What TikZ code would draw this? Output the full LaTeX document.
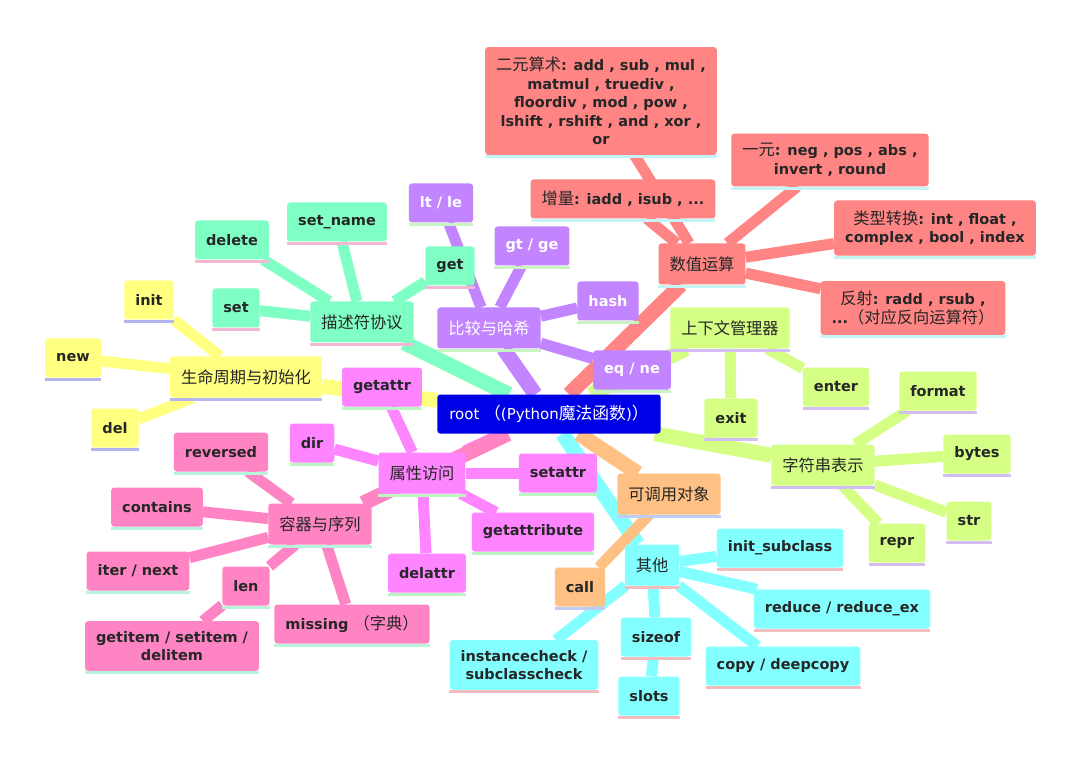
\documentclass[tikz,border=0pt]{standalone}
\usepackage{fontspec}
\setmainfont{DejaVu Sans}
\newfontfamily\cjk[Scale=1.12]{Noto Sans CJK SC}
\newcommand\zh[1]{{\mdseries\cjk #1}}
\usetikzlibrary{backgrounds}
\definecolor{rootB}{HTML}{0000E6}
\definecolor{lifeY}{HTML}{FFFF80}\definecolor{lifeS}{HTML}{B4B4F0}
\definecolor{descG}{HTML}{80FFC4}\definecolor{descS}{HTML}{F4B8D4}
\definecolor{cmpP}{HTML}{C284FF}\definecolor{cmpS}{HTML}{C8F4C4}
\definecolor{numR}{HTML}{FF8484}\definecolor{numS}{HTML}{C4F4F4}
\definecolor{ctxG}{HTML}{D4FF84}\definecolor{ctxS}{HTML}{D4BCF4}
\definecolor{callO}{HTML}{FFC084}\definecolor{callS}{HTML}{BCCCF4}
\definecolor{miscC}{HTML}{84FFFF}\definecolor{miscS}{HTML}{F4BCBC}
\definecolor{attrM}{HTML}{FF84FF}\definecolor{attrS}{HTML}{BCF4C4}
\definecolor{contP}{HTML}{FF84C4}\definecolor{contS}{HTML}{B8F4DC}
\begin{document}
\begin{tikzpicture}[x=1pt,y=-1pt,
  box/.style={rounded corners=3pt, inner xsep=11pt, inner ysep=10pt, minimum height=39pt, align=center, text=black!85},
  leaf/.style 2 args={box, fill=#1, font=\bfseries\fontsize{14.5}{18.5}\selectfont,
    append after command={([yshift=-1.6pt]\tikzlastnode.south west) edge[draw=#2, fill=none, line width=3.2pt, rounded corners=0pt] ([yshift=-1.6pt]\tikzlastnode.south east)}},
  hub/.style 2 args={leaf={#1}{#2}, font=\cjk\fontsize{14.5}{18}\selectfont, minimum height=41pt, inner xsep=11pt},
  trunk/.style={draw=#1, line width=15pt},
  twig/.style={draw=#1, line width=11pt}]
  \useasboundingbox (0,0) rectangle (1080,762);
  % root
  \node[box, fill=rootB, text=white, font=\fontsize{15}{18}\selectfont, inner xsep=12pt] (root) at (549,414) {root \zh{（}(Python\zh{魔法函数})\zh{）}};
  % life cycle
  \node[hub={lifeY}{lifeS}] (life) at (246,377) {生命周期与初始化};
  \node[leaf={lifeY}{lifeS}] (lnew) at (73,358) {new};
  \node[leaf={lifeY}{lifeS}] (linit) at (149,300) {init};
  \node[leaf={lifeY}{lifeS}] (ldel) at (115,428) {del};
  % descriptors
  \node[hub={descG}{descS}] (desc) at (362,322) {描述符协议};
  \node[leaf={descG}{descS}] (dset) at (236,308) {set};
  \node[leaf={descG}{descS}] (ddel) at (232,240) {delete};
  \node[leaf={descG}{descS}] (dname) at (337,222) {set\_name};
  \node[leaf={descG}{descS}] (dget) at (450,266) {get};
  % compare and hash
  \node[hub={cmpP}{cmpS}, text=white] (cmp) at (489,328) {比较与哈希};
  \node[leaf={cmpP}{cmpS}, text=white] (clt) at (441,203) {lt / le};
  \node[leaf={cmpP}{cmpS}, text=white] (cgt) at (532,246) {gt / ge};
  \node[leaf={cmpP}{cmpS}, text=white] (chash) at (608,301) {hash};
  \node[leaf={cmpP}{cmpS}, text=white] (ceq) at (632,370) {eq / ne};
  % numeric
  \node[hub={numR}{numS}] (num) at (702,264) {数值运算};
  \node[leaf={numR}{numS}] (nbin) at (601,101) {\zh{二元算术}: add , sub , mul ,\\ matmul , truediv ,\\ floordiv , mod , pow ,\\ lshift , rshift , and , xor ,\\ or};
  \node[leaf={numR}{numS}] (ninc) at (623,199) {\zh{增量}: iadd , isub , ...};
  \node[leaf={numR}{numS}] (nuna) at (830,160) {\zh{一元}: neg , pos , abs ,\\ invert , round};
  \node[leaf={numR}{numS}] (nconv) at (935,228) {\zh{类型转换}: int , float ,\\ complex , bool , index};
  \node[leaf={numR}{numS}] (nref) at (913,308) {\zh{反射}: radd , rsub ,\\ ...\zh{（对应反向运算符）}};
  % context manager
  \node[hub={ctxG}{ctxS}] (ctx) at (730,328) {上下文管理器};
  \node[leaf={ctxG}{ctxS}] (xexit) at (731,418) {exit};
  \node[leaf={ctxG}{ctxS}] (xenter) at (836,387) {enter};
  % string forms
  \node[hub={ctxG}{ctxS}] (strg) at (823,465) {字符串表示};
  \node[leaf={ctxG}{ctxS}] (sfmt) at (938,391) {format};
  \node[leaf={ctxG}{ctxS}] (sbytes) at (977,454) {bytes};
  \node[leaf={ctxG}{ctxS}] (sstr) at (969,521) {str};
  \node[leaf={ctxG}{ctxS}] (srepr) at (897,543) {repr};
  % callable
  \node[hub={callO}{callS}] (callable) at (669,494) {可调用对象};
  \node[leaf={callO}{callS}] (ccall) at (580,587) {call};
  % misc
  \node[hub={miscC}{miscS}] (misc) at (652,565) {其他};
  \node[leaf={miscC}{miscS}] (minit) at (780,548) {init\_subclass};
  \node[leaf={miscC}{miscS}] (mred) at (842,609) {reduce / reduce\_ex};
  \node[leaf={miscC}{miscS}] (mcopy) at (783,666) {copy / deepcopy};
  \node[leaf={miscC}{miscS}] (msize) at (656,637) {sizeof};
  \node[leaf={miscC}{miscS}] (mslots) at (649,696) {slots};
  \node[leaf={miscC}{miscS}] (minst) at (524,665) {instancecheck /\\ subclasscheck};
  % attribute access
  \node[hub={attrM}{attrS}] (attr) at (422,473) {属性访问};
  \node[leaf={attrM}{attrS}] (agetattr) at (382,387) {getattr};
  \node[leaf={attrM}{attrS}] (adir) at (312,443) {dir};
  \node[leaf={attrM}{attrS}] (asetattr) at (558,473) {setattr};
  \node[leaf={attrM}{attrS}] (agetattribute) at (533,532) {getattribute};
  \node[leaf={attrM}{attrS}] (adelattr) at (427,573) {delattr};
  % containers
  \node[hub={contP}{contS}] (cont) at (320,524) {容器与序列};
  \node[leaf={contP}{contS}] (crev) at (221,452) {reversed};
  \node[leaf={contP}{contS}] (ccont) at (157,507) {contains};
  \node[leaf={contP}{contS}] (citer) at (138,571) {iter / next};
  \node[leaf={contP}{contS}] (clen) at (246,586) {len};
  \node[leaf={contP}{contS}] (cgitem) at (172,646) {getitem / setitem /\\ delitem};
  \node[leaf={contP}{contS}] (cmiss) at (352,624) {missing \zh{（字典）}};
  \begin{pgfonlayer}{background}
    \fill[white] (0,0) rectangle (1080,762);
    \draw[trunk=lifeY] (root) -- (life); \draw[trunk=descG] (root) -- (desc); \draw[trunk=cmpP] (root) -- (cmp);
    \draw[trunk=numR] (root) -- (num); \draw[trunk=ctxG] (root) -- (ctx); \draw[trunk=ctxG] (root) -- (strg);
    \draw[trunk=miscC] (root) -- (misc); \draw[trunk=callO] (root) -- (callable);
    \draw[trunk=attrM] (root) -- (attr); \draw[trunk=contP] (root) -- (cont);
    \draw[twig=lifeY] (life) -- (lnew); \draw[twig=lifeY] (life) -- (linit); \draw[twig=lifeY] (life) -- (ldel);
    \draw[twig=descG] (desc) -- (dset); \draw[twig=descG] (desc) -- (ddel); \draw[twig=descG] (desc) -- (dname); \draw[twig=descG] (desc) -- (dget);
    \draw[twig=cmpP] (cmp) -- (clt); \draw[twig=cmpP] (cmp) -- (cgt); \draw[twig=cmpP] (cmp) -- (chash); \draw[twig=cmpP] (cmp) -- (ceq);
    \draw[twig=numR] (num) -- (nbin); \draw[twig=numR] (num) -- (ninc); \draw[twig=numR] (num) -- (nuna);
    \draw[twig=numR] (num) -- (nconv); \draw[twig=numR] (num) -- (nref);
    \draw[twig=ctxG] (ctx) -- (xexit); \draw[twig=ctxG] (ctx) -- (xenter);
    \draw[twig=ctxG] (strg) -- (sfmt); \draw[twig=ctxG] (strg) -- (sbytes); \draw[twig=ctxG] (strg) -- (sstr); \draw[twig=ctxG] (strg) -- (srepr);
    \draw[twig=callO] (callable) -- (ccall);
    \draw[twig=miscC] (misc) -- (minit); \draw[twig=miscC] (misc) -- (mred); \draw[twig=miscC] (misc) -- (mcopy);
    \draw[twig=miscC] (misc) -- (msize); \draw[twig=miscC] (msize) -- (mslots); \draw[twig=miscC] (misc) -- (minst);
    \draw[twig=attrM] (attr) -- (agetattr); \draw[twig=attrM] (attr) -- (adir); \draw[twig=attrM] (attr) -- (asetattr);
    \draw[twig=attrM] (attr) -- (agetattribute); \draw[twig=attrM] (attr) -- (adelattr);
    \draw[twig=contP] (cont) -- (crev); \draw[twig=contP] (cont) -- (ccont); \draw[twig=contP] (cont) -- (citer);
    \draw[twig=contP] (cont) -- (clen); \draw[twig=contP] (clen) -- (cgitem); \draw[twig=contP] (cont) -- (cmiss);
  \end{pgfonlayer}
\end{tikzpicture}
\end{document}
